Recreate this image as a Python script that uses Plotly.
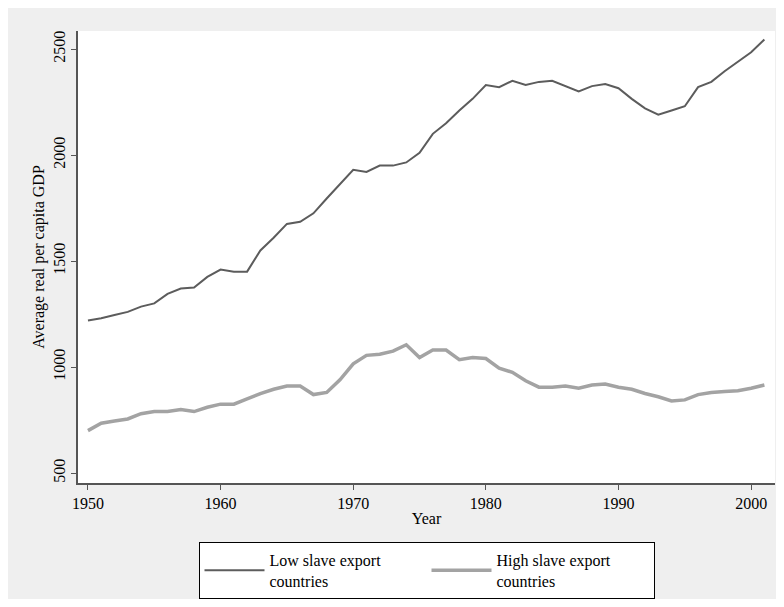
import plotly.graph_objects as go

years = list(range(1950, 2002))
low_export = [1220, 1230, 1245, 1260, 1285, 1300, 1345, 1370, 1375, 1425,
              1460, 1450, 1450, 1550, 1610, 1675, 1685, 1725, 1795, 1860,
              1930, 1920, 1950, 1950, 1965, 2010, 2100, 2150, 2210, 2265,
              2330, 2320, 2350, 2330, 2345, 2350, 2325, 2300, 2325, 2335,
              2315, 2265, 2220, 2190, 2210, 2230, 2320, 2345, 2395, 2440,
              2485, 2545]
high_export = [700, 735, 745, 755, 780, 790, 790, 800, 790, 810,
               825, 825, 850, 875, 895, 910, 910, 870, 880, 940,
               1015, 1055, 1060, 1075, 1105, 1045, 1080, 1080, 1035, 1045,
               1040, 995, 975, 935, 905, 905, 910, 900, 915, 920,
               905, 895, 875, 860, 840, 845, 870, 880, 885, 888,
               900, 915]

fig = go.Figure()
fig.add_trace(go.Scatter(x=years, y=low_export, mode="lines",
                         name="Low slave export<br>countries",
                         line=dict(color="#5c5c5c", width=2)))
fig.add_trace(go.Scatter(x=years, y=high_export, mode="lines",
                         name="High slave export<br>countries",
                         line=dict(color="#a3a3a3", width=3.5)))

axis_style = dict(showgrid=False, zeroline=False, showline=True, linecolor="#555",
                  linewidth=1.5, ticks="outside", ticklen=5, tickcolor="#555",
                  tickfont=dict(size=16, color="black"))
fig.update_xaxes(range=[1949.25, 2001.8], tickvals=[1950, 1960, 1970, 1980, 1990, 2000],
                 title=dict(text="Year", standoff=2, font=dict(size=16)), **axis_style)
fig.update_yaxes(range=[453, 2585], tickvals=[500, 1000, 1500, 2000, 2500], tickangle=-90,
                 title=dict(text="Average real per capita GDP", standoff=2, font=dict(size=16)),
                 **axis_style)

fig.update_layout(
    width=768, height=591,
    margin=dict(l=70, r=1, t=23, b=115),
    paper_bgcolor="#efefef", plot_bgcolor="white",
    font=dict(family="Liberation Serif", size=16, color="black"),
    showlegend=True,
    legend=dict(orientation="h", x=0.5, xanchor="center", y=-0.128, yanchor="top",
                bgcolor="white", bordercolor="black", borderwidth=1,
                font=dict(size=16), itemwidth=60, entrywidth=152),
)
fig.write_html("out.html")
